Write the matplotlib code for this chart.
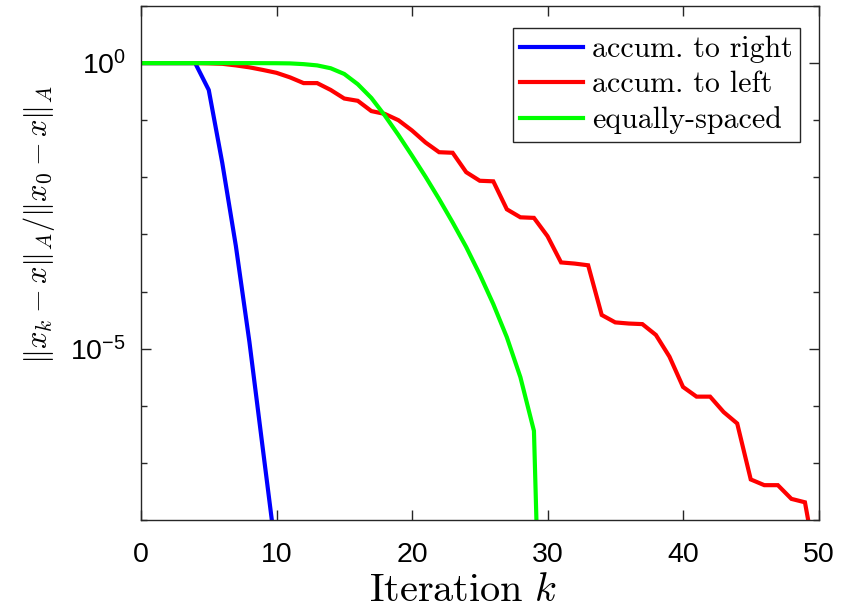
import numpy as np
import matplotlib
matplotlib.use("Agg")
import matplotlib.pyplot as plt
from matplotlib.ticker import FixedLocator, FixedFormatter, NullFormatter

plt.rcParams['font.family'] = ['Liberation Sans', 'DejaVu Sans']
plt.rcParams['mathtext.fontset'] = 'cm'

# ---- data (log10 of relative A-norm error) ----
k_right = list(range(0, 11))
log_right = [0, 0, 0, 0, 0, -0.47, -1.75, -3.2, -4.88, -6.77, -8.65]

k_left = list(range(0, 51))
log_left = [0, 0, 0, 0, 0, -0.004, -0.012, -0.04, -0.074, -0.12,
            -0.17, -0.25, -0.35, -0.35, -0.47, -0.62, -0.66, -0.84, -0.89, -1.0,
            -1.18, -1.39, -1.56, -1.57, -1.91, -2.06, -2.07, -2.56, -2.70, -2.71,
            -3.03, -3.49, -3.51, -3.54, -4.41, -4.54, -4.56, -4.57, -4.76, -5.14,
            -5.67, -5.84, -5.84, -6.11, -6.31, -7.29, -7.39, -7.39, -7.63, -7.69,
            -9.0]

k_eq = list(range(0, 31))
log_eq = [0, 0, 0, 0, 0, 0, 0, 0, 0, -0.001,
          -0.002, -0.005, -0.018, -0.04, -0.09, -0.19, -0.37, -0.61, -0.92, -1.26,
          -1.62, -1.99, -2.38, -2.79, -3.22, -3.70, -4.22, -4.80, -5.50, -6.44,
          -15.0]

labels = ['accum. to right', 'accum. to left', 'equally-spaced']
colors = ['#0000ff', '#ff0000', '#00ff00']

xticks = [0, 10, 20, 30, 40, 50]
ymajor = [1e-5, 1e0]
ymajor_labels = [r'$\mathdefault{10^{-5}}$', r'$\mathdefault{10^{0}}$']

fig = plt.figure(figsize=(8.51, 6.12), dpi=100)
ax = fig.add_axes([141/851, 1-520/612, (818.5-141)/851, (520-6)/612])

series = [(k_right, log_right), (k_left, log_left), (k_eq, log_eq)]
for (k, lg), lab, c in zip(series, labels, colors):
    ax.semilogy(k, 10.0**np.array(lg), color=c, lw=3.0, label=lab,
                solid_joinstyle='miter')

ax.set_xlim(0, 50)
ax.set_ylim(1e-8, 1e1)
ax.xaxis.set_major_locator(FixedLocator(xticks))
ax.yaxis.set_major_locator(FixedLocator(ymajor))
ax.yaxis.set_major_formatter(FixedFormatter(ymajor_labels))
ax.yaxis.set_minor_locator(FixedLocator([10.0**e for e in range(-8, 2)]))
ax.yaxis.set_minor_formatter(NullFormatter())

edge = '#262626'
for s in ax.spines.values():
    s.set_color(edge)
    s.set_linewidth(1.0)
ax.tick_params(which='both', direction='in', top=True, right=True,
               colors=edge, labelcolor='black', labelsize=20.5)
ax.tick_params(which='major', length=7, width=1.0)
ax.tick_params(which='minor', length=4, width=1.0)
ax.tick_params(axis='x', pad=16)
ax.tick_params(axis='y', pad=11)

ax.set_xlabel(r'$\mathrm{Iteration}\ k$', fontsize=29)
ax.set_ylabel(r'$\|x_k - x\|_A / \|x_0 - x\|_A$', fontsize=22)
ax.yaxis.set_label_coords(-0.124, 0.574)
ax.xaxis.set_label_coords(0.475, -0.099)

leg = ax.legend(loc='upper right', bbox_to_anchor=(0.9727, 0.957),
                borderaxespad=0, prop={'family': 'cmr10', 'size': 21.5},
                fancybox=False, framealpha=1, edgecolor=edge,
                handlelength=2.1, handletextpad=0.3, labelspacing=0.27,
                borderpad=0.25)
leg.get_frame().set_linewidth(1.0)

fig.savefig('out.png', dpi=100)
